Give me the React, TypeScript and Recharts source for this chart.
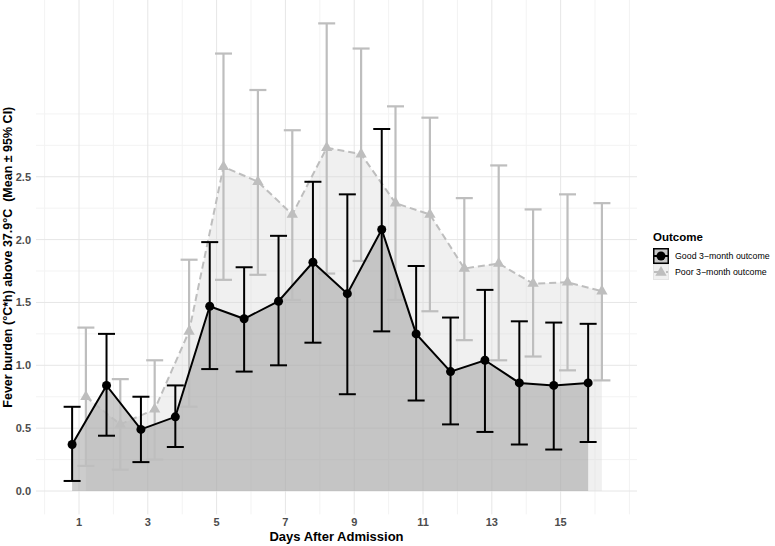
import React from 'react';
import { ComposedChart, Area, Line, ErrorBar, XAxis, YAxis, CartesianGrid, Label } from 'recharts';

// days after admission
const days = [1, 2, 3, 4, 5, 6, 7, 8, 9, 10, 11, 12, 13, 14, 15, 16];

// good 3-month outcome: mean and 95% CI
const goodMean = [0.37, 0.84, 0.49, 0.59, 1.47, 1.37, 1.51, 1.82, 1.57, 2.08, 1.25, 0.95, 1.04, 0.86, 0.84, 0.86];
const goodLow = [0.08, 0.44, 0.23, 0.35, 0.97, 0.95, 1.0, 1.18, 0.77, 1.27, 0.72, 0.53, 0.47, 0.37, 0.33, 0.39];
const goodHigh = [0.67, 1.25, 0.75, 0.84, 1.98, 1.78, 2.03, 2.46, 2.36, 2.88, 1.79, 1.38, 1.6, 1.35, 1.34, 1.33];

// poor 3-month outcome: mean and 95% CI
const poorMean = [0.75, 0.53, 0.65, 1.27, 2.58, 2.46, 2.2, 2.73, 2.68, 2.29, 2.2, 1.77, 1.81, 1.65, 1.66, 1.59];
const poorLow = [0.2, 0.17, 0.25, 0.67, 1.68, 1.72, 1.52, 1.73, 1.83, 1.52, 1.43, 1.2, 1.04, 1.07, 0.96, 0.88];
const poorHigh = [1.3, 0.89, 1.04, 1.84, 3.48, 3.19, 2.87, 3.72, 3.52, 3.06, 2.97, 2.33, 2.59, 2.24, 2.36, 2.29];

const xTicks = [1, 3, 5, 7, 9, 11, 13, 15];
const yTicks = [0, 0.5, 1, 1.5, 2, 2.5];
const xMinor = [0, 2, 4, 6, 8, 10, 12, 14, 16, 17];
const yMinor = [0.25, 0.75, 1.25, 1.75, 2.25, 2.75, 3];

const DODGE = 0.2;
const GREY = '#bebebe';
const FONT = '"Liberation Sans", Arial, sans-serif';

const goodRows = days.map((d, i) => ({
  x: d - DODGE,
  mean: goodMean[i],
  err: [goodMean[i] - goodLow[i], goodHigh[i] - goodMean[i]],
}));
const poorRows = days.map((d, i) => ({
  x: d + DODGE,
  mean: poorMean[i],
  err: [poorMean[i] - poorLow[i], poorHigh[i] - poorMean[i]],
}));

const triPoints = (cx: number, cy: number, s: number) =>
  `${cx},${cy - 1.555 * s} ${cx + 1.347 * s},${cy + 0.778 * s} ${cx - 1.347 * s},${cy + 0.778 * s}`;

const GoodDot = (p: any) => <circle key={`g${p.index}`} cx={p.cx} cy={p.cy} r={4.5} fill="#000" />;
const PoorDot = (p: any) => <polygon key={`p${p.index}`} points={triPoints(p.cx, p.cy, 4.2)} fill={GREY} />;

const tickStyle = { fill: '#4d4d4d', fontSize: 11, fontWeight: 700, fontFamily: FONT };

function LegendBox() {
  return (
    <div style={{ position: 'absolute', left: 653, top: 231, fontFamily: FONT, color: '#000', whiteSpace: 'nowrap' }}>
      <div style={{ fontSize: 11.5, fontWeight: 700, marginBottom: 5 }}>Outcome</div>
      <div style={{ display: 'flex', alignItems: 'center', height: 16 }}>
        <svg width={16} height={16}>
          <rect x={0.75} y={0.75} width={14.5} height={14.5} fill="#c8c8c8" stroke="#000" strokeWidth={1.5} />
          <line x1={1} y1={8} x2={15} y2={8} stroke="#000" strokeWidth={2} />
          <circle cx={8} cy={8} r={4.5} fill="#000" />
        </svg>
        <span style={{ fontSize: 8.8, marginLeft: 6 }}>Good 3−month outcome</span>
      </div>
      <div style={{ display: 'flex', alignItems: 'center', height: 16 }}>
        <svg width={16} height={16}>
          <rect x={0.5} y={0.5} width={15} height={15} fill="#f0f0f0" stroke="#e4e4e4" strokeWidth={1} />
          <line x1={1} y1={8} x2={15} y2={8} stroke={GREY} strokeWidth={2} strokeDasharray="4 2" />
          <polygon points={triPoints(8, 8.5, 4.2)} fill={GREY} />
        </svg>
        <span style={{ fontSize: 8.8, marginLeft: 6 }}>Poor 3−month outcome</span>
      </div>
    </div>
  );
}

export default function App() {
  return (
    <div style={{ position: 'absolute', left: 0, top: 0, width: 775, height: 546, background: '#fff' }}>
      <ComposedChart width={775} height={546} margin={{ top: 0, right: 138, bottom: 0, left: 0 }}>
        <CartesianGrid stroke="#f3f3f3" horizontalValues={yMinor} verticalValues={xMinor} />
        <CartesianGrid stroke="#e6e6e6" horizontalValues={yTicks} verticalValues={xTicks} />
        <XAxis
          type="number"
          dataKey="x"
          domain={[-0.25, 17.22]}
          ticks={xTicks}
          allowDataOverflow
          axisLine={false}
          tickLine={false}
          tickSize={0}
          tickMargin={4}
          height={31.6}
          tick={tickStyle}
        >
          <Label
            content={({ viewBox }: any) => (
              <text
                x={viewBox.x + viewBox.width / 2}
                y={viewBox.y + 27}
                textAnchor="middle"
                style={{ fontSize: 13, fontWeight: 700, fontFamily: FONT, fill: '#000' }}
              >
                Days After Admission
              </text>
            )}
          />
        </XAxis>
        <YAxis
          type="number"
          domain={[-0.186, 3.906]}
          ticks={yTicks}
          allowDataOverflow
          axisLine={false}
          tickLine={false}
          tickSize={0}
          tickMargin={5}
          width={36}
          tick={tickStyle}
          tickFormatter={(v: number) => v.toFixed(1)}
        >
          <Label
            content={({ viewBox }: any) => {
              const cx = 8.5;
              const cy = viewBox.y + viewBox.height / 2;
              return (
                <text
                  x={cx}
                  y={cy}
                  transform={`rotate(-90 ${cx} ${cy})`}
                  textAnchor="middle"
                  dominantBaseline="central"
                  style={{ fontSize: 12.5, fontWeight: 700, fontFamily: FONT, fill: '#000', whiteSpace: 'pre' }}
                >
                  {'Fever burden (°C*h) above 37.9°C  (Mean ± 95% CI)'}
                </text>
              );
            }}
          />
        </YAxis>

        <Area
          data={poorRows}
          dataKey="mean"
          type="linear"
          baseValue={0}
          stroke="none"
          fill="#d9d9d9"
          fillOpacity={0.4}
          dot={false}
          activeDot={false}
          isAnimationActive={false}
        />
        <Line
          data={poorRows}
          dataKey="mean"
          type="linear"
          stroke={GREY}
          strokeWidth={2}
          strokeDasharray="7 4"
          dot={PoorDot}
          activeDot={false}
          isAnimationActive={false}
        >
          <ErrorBar dataKey="err" direction="y" width={8.5} stroke={GREY} strokeWidth={2.2} />
        </Line>

        <Area
          data={goodRows}
          dataKey="mean"
          type="linear"
          baseValue={0}
          stroke="none"
          fill="#9a9a9a"
          fillOpacity={0.5}
          dot={false}
          activeDot={false}
          isAnimationActive={false}
        />
        <Line
          data={goodRows}
          dataKey="mean"
          type="linear"
          stroke="#000"
          strokeWidth={2}
          dot={GoodDot}
          activeDot={false}
          isAnimationActive={false}
        >
          <ErrorBar dataKey="err" direction="y" width={8.5} stroke="#000" strokeWidth={2} />
        </Line>
      </ComposedChart>
      <LegendBox />
    </div>
  );
}
